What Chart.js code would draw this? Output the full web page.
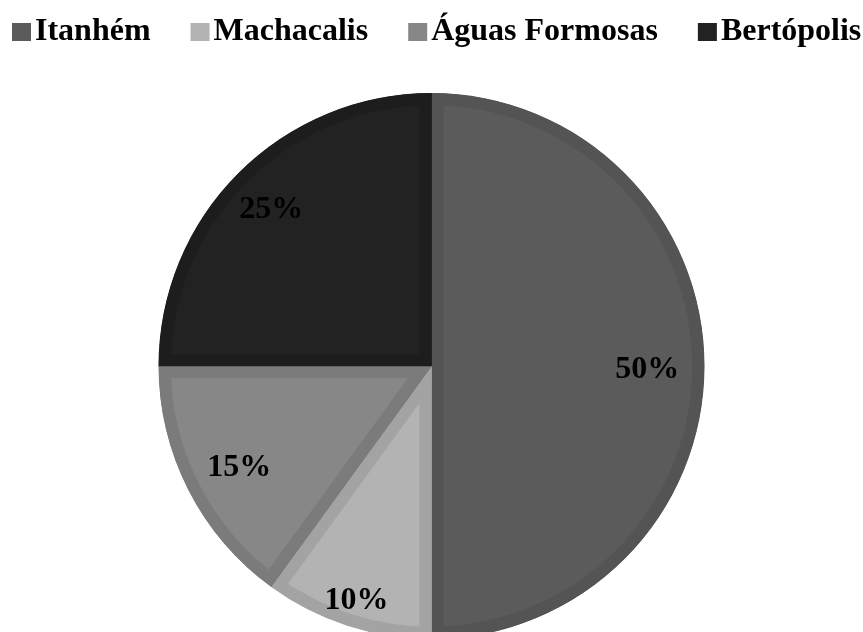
<!DOCTYPE html>
<html>
<head>
<meta charset="utf-8">
<script src="https://cdn.jsdelivr.net/npm/chart.js@4/dist/chart.umd.min.js"></script>
<style>
  html, body { margin: 0; padding: 0; background: #fff; overflow: hidden; }
  #wrap { width: 863px; height: 650px; position: relative; }
</style>
</head>
<body>
<div id="wrap"><canvas id="pie-chart"></canvas></div>
<script>
// dados
var cities = ['Itanhém', 'Machacalis', 'Águas Formosas', 'Bertópolis'];
var shares = [50, 10, 15, 25];
var shareLabels = ['50%', '10%', '15%', '25%'];

// cores (cinzas)
var fills = ['#5b5b5b', '#b3b3b3', '#878787', '#222222'];
var edges = ['#545454', '#a3a3a3', '#7b7b7b', '#1d1d1d'];

// distância do rótulo ao centro (fração do raio)
var labelRadius = [0.79, 0.89, 0.79, 0.83];

var serifBold = 'bold 32px "Liberation Serif"';

// rótulos de porcentagem dentro das fatias
var sliceLabels = {
  id: 'sliceLabels',
  afterDatasetsDraw: function(chart) {
    var ctx = chart.ctx;
    var meta = chart.getDatasetMeta(0);
    ctx.save();
    ctx.fillStyle = '#000';
    ctx.font = serifBold;
    ctx.textAlign = 'center';
    ctx.textBaseline = 'middle';
    meta.data.forEach(function(arc, i) {
      var p = arc.getProps(['x', 'y', 'startAngle', 'endAngle', 'outerRadius']);
      var mid = (p.startAngle + p.endAngle) / 2;
      var r = p.outerRadius * labelRadius[i];
      ctx.fillText(shareLabels[i], p.x + Math.cos(mid) * r, p.y + Math.sin(mid) * r + 4);
    });
    ctx.restore();
  }
};

// legenda compacta no topo (a do Chart.js quebra a linha)
var topLegend = {
  id: 'topLegend',
  afterDraw: function(chart) {
    var ctx = chart.ctx;
    var labels = chart.data.labels;
    var colors = chart.data.datasets[0].backgroundColor;
    var x = 12, base = 40;
    ctx.save();
    ctx.font = serifBold;
    ctx.textBaseline = 'alphabetic';
    ctx.textAlign = 'left';
    labels.forEach(function(name, i) {
      ctx.fillStyle = colors[i];
      ctx.fillRect(x, 23, 19, 18);
      ctx.fillStyle = '#000';
      ctx.fillText(name, x + 23, base);
      x += 23 + ctx.measureText(name).width + 40;
    });
    ctx.restore();
  }
};

new Chart(document.getElementById('pie-chart'), {
  type: 'pie',
  data: {
    labels: cities,
    datasets: [{
      data: shares,
      backgroundColor: fills,
      borderColor: edges,
      borderWidth: 12,
      borderAlign: 'inner'
    }]
  },
  options: {
    responsive: true,
    maintainAspectRatio: false,
    animation: false,
    layout: { padding: { top: 93, bottom: 11, left: 0, right: 0 } },
    plugins: {
      tooltip: { enabled: false },
      legend: { display: false }
    }
  },
  plugins: [sliceLabels, topLegend]
});
</script>
</body>
</html>
